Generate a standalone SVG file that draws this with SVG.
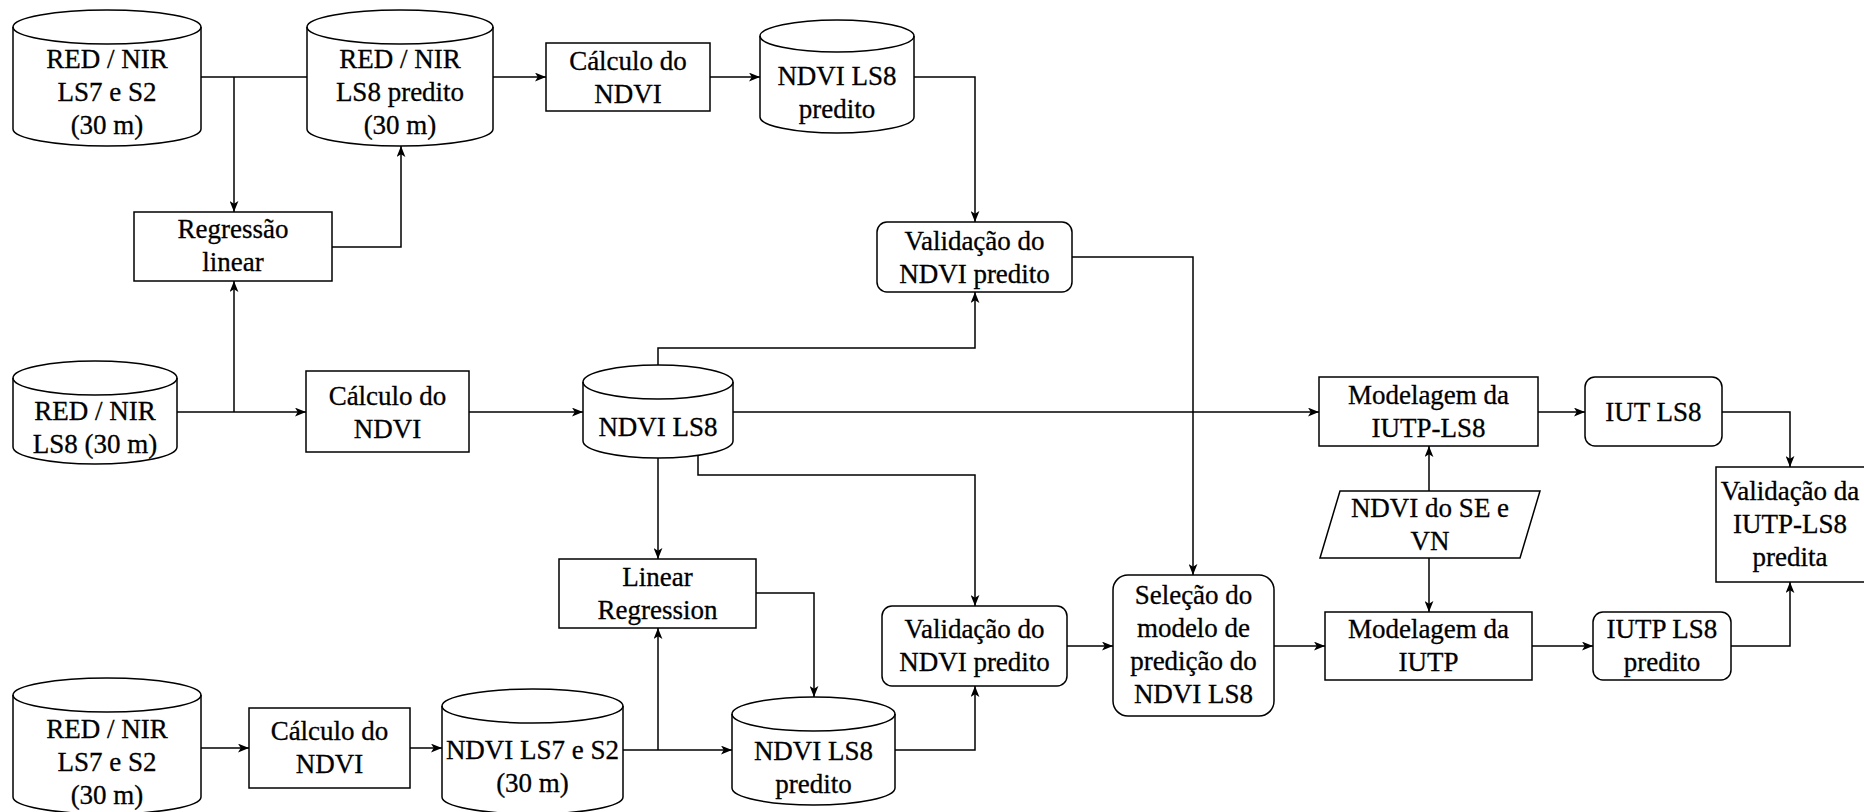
<svg xmlns="http://www.w3.org/2000/svg" width="1864" height="812" viewBox="0 0 1864 812">
  <defs>
    <marker id="arrow" viewBox="0 0 10 8" refX="10" refY="4" markerWidth="11" markerHeight="9" markerUnits="userSpaceOnUse" orient="auto">
      <path d="M0,0 L10,4 L0,8 L2.5,4 Z" fill="#000"/>
    </marker>
  </defs>
  <style>
    .shape { fill: #fff; stroke: #000; stroke-width: 1.5; }
    .inner { fill: none; stroke: #000; stroke-width: 1.5; }
    text { font-family: 'Liberation Serif', serif; font-size: 27px; fill: #000; stroke: #000; stroke-width: 0.3; text-anchor: middle; }
    .edge { fill: none; stroke: #000; stroke-width: 1.5; }
    .arr { marker-end: url(#arrow); }
  </style>
  <rect width="1864" height="812" fill="#fff"/>

  <!-- connectors -->
  <g id="connectors">
    <path class="edge" d="M201,77 H307"/>
    <path class="edge arr" d="M234,77 V212"/>
    <path class="edge arr" d="M332,247 H401 V146"/>
    <path class="edge arr" d="M493,77 H546"/>
    <path class="edge arr" d="M710,77 H760"/>
    <path class="edge arr" d="M914,77 H975 V222"/>
    <path class="edge arr" d="M1072,257 H1193 V575"/>
    <path class="edge arr" d="M177,412 H306"/>
    <path class="edge arr" d="M234,412 V281"/>
    <path class="edge arr" d="M469,412 H583"/>
    <path class="edge arr" d="M658,365 V348 H975 V292"/>
    <path class="edge arr" d="M733,412 H1319"/>
    <path class="edge arr" d="M698,455 V475 H975 V606"/>
    <path class="edge arr" d="M658,458 V559"/>
    <path class="edge arr" d="M1538,412 H1585"/>
    <path class="edge arr" d="M1722,412 H1790 V467"/>
    <path class="edge arr" d="M1429,491 V446"/>
    <path class="edge arr" d="M1429,558 V612"/>
    <path class="edge arr" d="M756,593 H814 V697"/>
    <path class="edge arr" d="M1067,646 H1113"/>
    <path class="edge arr" d="M1274,646 H1325"/>
    <path class="edge arr" d="M1532,646 H1593"/>
    <path class="edge arr" d="M1731,646 H1790 V582"/>
    <path class="edge arr" d="M201,748 H249"/>
    <path class="edge arr" d="M410,748 H442"/>
    <path class="edge arr" d="M623,750 H732"/>
    <path class="edge arr" d="M658,750 V628"/>
    <path class="edge arr" d="M895,750 H975 V686"/>
  </g>

  <!-- top row -->
  <g id="red-nir-ls7-s2-top">
    <path class="shape" d="M13,27 A94,17 0 0 1 201,27 V129 A94,17 0 0 1 13,129 Z"/>
    <path class="inner" d="M13,27 A94,17 0 0 0 201,27"/>
    <text x="107" y="68">RED / NIR</text>
    <text x="107" y="101">LS7 e S2</text>
    <text x="107" y="134">(30 m)</text>
  </g>
  <g id="red-nir-ls8-predito">
    <path class="shape" d="M307,27 A93,17 0 0 1 493,27 V129 A93,17 0 0 1 307,129 Z"/>
    <path class="inner" d="M307,27 A93,17 0 0 0 493,27"/>
    <text x="400" y="68">RED / NIR</text>
    <text x="400" y="101">LS8 predito</text>
    <text x="400" y="134">(30 m)</text>
  </g>
  <g id="calc-ndvi-1">
    <rect class="shape" x="546" y="43" width="164" height="68"/>
    <text x="628" y="70">Cálculo do</text>
    <text x="628" y="103">NDVI</text>
  </g>
  <g id="ndvi-ls8-predito-top">
    <path class="shape" d="M760,36 A77,16 0 0 1 914,36 V117 A77,16 0 0 1 760,117 Z"/>
    <path class="inner" d="M760,36 A77,16 0 0 0 914,36"/>
    <text x="837" y="85">NDVI LS8</text>
    <text x="837" y="118">predito</text>
  </g>
  <g id="regressao-linear">
    <rect class="shape" x="134" y="212" width="198" height="69"/>
    <text x="233" y="238">Regressão</text>
    <text x="233" y="271">linear</text>
  </g>
  <g id="validacao-ndvi-1">
    <rect class="shape" x="877" y="222" width="195" height="70" rx="10"/>
    <text x="974.5" y="250">Validação do</text>
    <text x="974.5" y="283">NDVI predito</text>
  </g>

  <!-- middle row -->
  <g id="red-nir-ls8">
    <path class="shape" d="M13,378 A82,17 0 0 1 177,378 V447 A82,17 0 0 1 13,447 Z"/>
    <path class="inner" d="M13,378 A82,17 0 0 0 177,378"/>
    <text x="95" y="420">RED / NIR</text>
    <text x="95" y="453">LS8 (30 m)</text>
  </g>
  <g id="calc-ndvi-2">
    <rect class="shape" x="306" y="371" width="163" height="81"/>
    <text x="387.5" y="405">Cálculo do</text>
    <text x="387.5" y="438">NDVI</text>
  </g>
  <g id="ndvi-ls8">
    <path class="shape" d="M583,382 A75,17 0 0 1 733,382 V441 A75,17 0 0 1 583,441 Z"/>
    <path class="inner" d="M583,382 A75,17 0 0 0 733,382"/>
    <text x="658" y="436">NDVI LS8</text>
  </g>
  <g id="modelagem-iutp-ls8">
    <rect class="shape" x="1319" y="377" width="219" height="69"/>
    <text x="1428.5" y="404">Modelagem da</text>
    <text x="1428.5" y="437">IUTP-LS8</text>
  </g>
  <g id="iut-ls8">
    <rect class="shape" x="1585" y="377" width="137" height="69" rx="10"/>
    <text x="1653.5" y="421">IUT LS8</text>
  </g>
  <g id="ndvi-se-vn">
    <polygon class="shape" points="1340,491 1540,491 1520,558 1320,558"/>
    <text x="1430" y="517">NDVI do SE e</text>
    <text x="1430" y="550">VN</text>
  </g>
  <g id="validacao-iutp-ls8">
    <rect class="shape" x="1716" y="467" width="150" height="115"/>
    <text x="1790" y="500">Validação da</text>
    <text x="1790" y="533">IUTP-LS8</text>
    <text x="1790" y="566">predita</text>
  </g>

  <!-- lower rows -->
  <g id="linear-regression">
    <rect class="shape" x="559" y="559" width="197" height="69"/>
    <text x="657.5" y="586">Linear</text>
    <text x="657.5" y="619">Regression</text>
  </g>
  <g id="validacao-ndvi-2">
    <rect class="shape" x="882" y="606" width="185" height="80" rx="10"/>
    <text x="974.5" y="638">Validação do</text>
    <text x="974.5" y="671">NDVI predito</text>
  </g>
  <g id="selecao-modelo">
    <rect class="shape" x="1113" y="575" width="161" height="141" rx="15"/>
    <text x="1193.5" y="604">Seleção do</text>
    <text x="1193.5" y="637">modelo de</text>
    <text x="1193.5" y="670">predição do</text>
    <text x="1193.5" y="703">NDVI LS8</text>
  </g>
  <g id="modelagem-iutp">
    <rect class="shape" x="1325" y="612" width="207" height="68"/>
    <text x="1428.5" y="638">Modelagem da</text>
    <text x="1428.5" y="671">IUTP</text>
  </g>
  <g id="iutp-ls8-predito">
    <rect class="shape" x="1593" y="612" width="138" height="68" rx="10"/>
    <text x="1662" y="638">IUTP LS8</text>
    <text x="1662" y="671">predito</text>
  </g>
  <g id="red-nir-ls7-s2-bottom">
    <path class="shape" d="M13,695 A94,17 0 0 1 201,695 V797 A94,17 0 0 1 13,797 Z"/>
    <path class="inner" d="M13,695 A94,17 0 0 0 201,695"/>
    <text x="107" y="738">RED / NIR</text>
    <text x="107" y="771">LS7 e S2</text>
    <text x="107" y="804">(30 m)</text>
  </g>
  <g id="calc-ndvi-3">
    <rect class="shape" x="249" y="708" width="161" height="80"/>
    <text x="329.5" y="740">Cálculo do</text>
    <text x="329.5" y="773">NDVI</text>
  </g>
  <g id="ndvi-ls7-s2">
    <path class="shape" d="M442,706 A90.5,17 0 0 1 623,706 V797 A90.5,17 0 0 1 442,797 Z"/>
    <path class="inner" d="M442,706 A90.5,17 0 0 0 623,706"/>
    <text x="532.5" y="759">NDVI LS7 e S2</text>
    <text x="532.5" y="792">(30 m)</text>
  </g>
  <g id="ndvi-ls8-predito-bottom">
    <path class="shape" d="M732,714 A81.5,17 0 0 1 895,714 V788 A81.5,17 0 0 1 732,788 Z"/>
    <path class="inner" d="M732,714 A81.5,17 0 0 0 895,714"/>
    <text x="813.5" y="760">NDVI LS8</text>
    <text x="813.5" y="793">predito</text>
  </g>
</svg>
